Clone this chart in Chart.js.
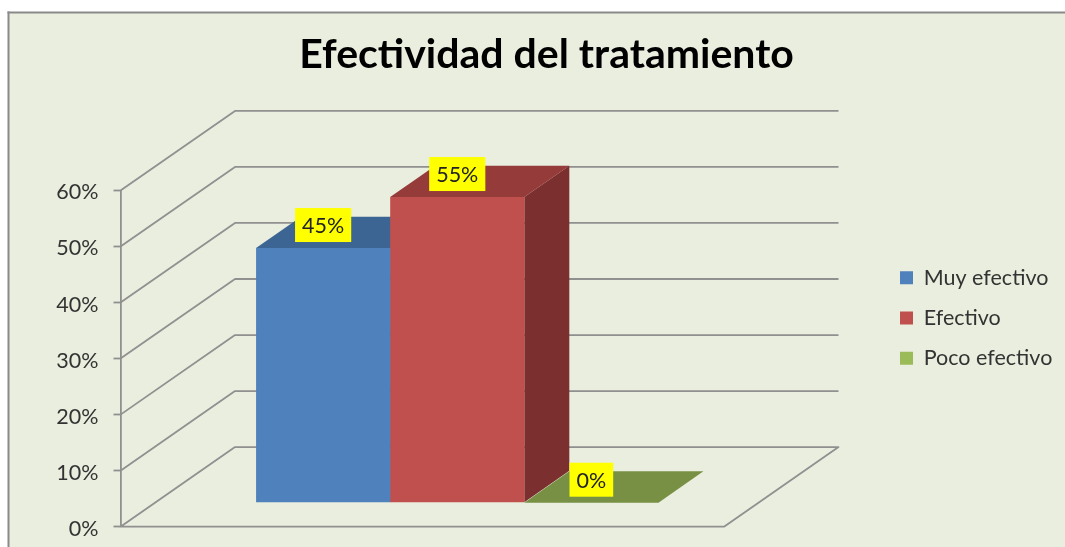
<!DOCTYPE html>
<html lang="es">
<head>
<meta charset="utf-8">
<title>Efectividad del tratamiento</title>
<style>html,body{margin:0;padding:0;background:#fff}canvas{display:block}</style>
<script src="https://cdn.jsdelivr.net/npm/chart.js@4"></script>
</head>
<body>
<canvas id="c" width="1065" height="547"></canvas>
<script>
const categories = [''];
const seriesNames = ['Muy efectivo', 'Efectivo', 'Poco efectivo'];
const muyEfectivo = [45.45];
const efectivo = [54.55];
const pocoEfectivo = [0];
const yTicks = [0, 10, 20, 30, 40, 50, 60];
const chartTitle = 'Efectividad del tratamiento';

const frontColors = ['#4F81BD', '#C0504D', '#9BBB59'];
const topColors = ['#3D6594', '#953B39', '#779044'];
const sideColors = ['#3A5F8C', '#7B2F2E', '#6A8038'];

const FONT = 'Lato, Carlito, "Open Sans", sans-serif';
const BG = '#EAEEDE', GRID = '#909090';
const BAR_SHIFT = {x: 35, y: -24};     // where the bars sit on the floor
const BAR_DEPTH = {x: 45, y: -31.4};   // depth of a bar
const WALL = {x: 114.5, y: -79.6};     // depth of the floor

function poly(ctx, pts, fill) {
  ctx.beginPath();
  pts.forEach((p, i) => i ? ctx.lineTo(p[0], p[1]) : ctx.moveTo(p[0], p[1]));
  ctx.closePath();
  ctx.fillStyle = fill;
  ctx.fill();
}

const scene3d = {
  id: 'scene3d',
  beforeLayout(chart) {
    const lg = chart.legend;
    if (lg && !lg._patched) {
      const fit = lg.fit;
      lg.fit = function () { fit.call(this); this.width = 0; };
      lg._patched = true;
    }
  },
  afterLayout(chart) {
    const lg = chart.legend;
    lg.left = 881.2; lg.right = 1060; lg.top = 248.15; lg.bottom = 400;
    const t = chart.titleBlock;
    t.left = 14; t.right = 1079;
  },
  beforeDraw(chart) {
    const ctx = chart.ctx;
    ctx.save();
    ctx.fillStyle = BG;
    ctx.fillRect(8, 12, 1057, 535);
    ctx.fillStyle = '#8A8A8A';
    ctx.fillRect(7.5, 11.5, 1057.5, 2);
    ctx.fillRect(7.5, 11.5, 2, 535.5);
    ctx.restore();
  },
  beforeDatasetsDraw(chart) {
    const ctx = chart.ctx, y = chart.scales.y, a = chart.chartArea;
    ctx.save();
    ctx.strokeStyle = GRID;
    ctx.lineWidth = 1.8;
    ctx.lineJoin = 'round';
    yTicks.forEach(v => {
      const py = y.getPixelForValue(v);
      ctx.beginPath();
      ctx.moveTo(a.left, py);
      ctx.lineTo(a.left + WALL.x, py + WALL.y);
      ctx.lineTo(a.right + WALL.x, py + WALL.y);
      if (v === 0) { ctx.lineTo(a.right, py); ctx.closePath(); }
      ctx.stroke();
    });
    ctx.translate(BAR_SHIFT.x, BAR_SHIFT.y);
    chart.getSortedVisibleDatasetMetas().slice().sort((m, n) => m.index - n.index).forEach(meta => {
      const b = meta.data[0], i = meta.index;
      const l = b.x - b.width / 2, r = b.x + b.width / 2;
      const dx = BAR_DEPTH.x, dy = BAR_DEPTH.y;
      poly(ctx, [[r, b.base], [r + dx, b.base + dy], [r + dx, b.y + dy], [r, b.y]], sideColors[i]);
      poly(ctx, [[l, b.y], [l + dx, b.y + dy], [r + dx, b.y + dy], [r, b.y]], topColors[i]);
    });
    // bars themselves are drawn by Chart.js inside this shifted frame
  },
  afterDatasetsDraw(chart) {
    const ctx = chart.ctx;
    ctx.font = '21.5px ' + FONT;
    ctx.textAlign = 'center';
    ctx.textBaseline = 'middle';
    chart.getSortedVisibleDatasetMetas().forEach(meta => {
      const b = meta.data[0];
      const text = Math.round(chart.data.datasets[meta.index].data[0]) + '%';
      const w = ctx.measureText(text).width + 14;
      const cy = b.y - 23;
      ctx.fillStyle = '#FFFF00';
      ctx.fillRect(b.x - w / 2, cy - 17, w, 34);
      ctx.fillStyle = '#222';
      ctx.fillText(text, b.x, cy + 1);
    });
    ctx.restore();
  }
};

new Chart(document.getElementById('c'), {
  type: 'bar',
  data: {
    labels: categories,
    datasets: [muyEfectivo, efectivo, pocoEfectivo].map((d, i) => ({
      label: seriesNames[i],
      data: d,
      backgroundColor: frontColors[i],
      borderWidth: 0,
      barPercentage: 1,
      categoryPercentage: 0.6667,
      clip: false
    }))
  },
  plugins: [scene3d],
  options: {
    responsive: false,
    animation: false,
    events: [],
    layout: {padding: {left: 0, top: 0, right: 341, bottom: 20.3}},
    plugins: {
      tooltip: {enabled: false},
      title: {
        display: true,
        text: chartTitle,
        color: '#000',
        font: {family: FONT, size: 41, weight: 'bold', lineHeight: 1.2},
        padding: {top: 30.4, bottom: 110.9}
      },
      legend: {
        position: 'right',
        align: 'start',
        labels: {
          boxWidth: 13,
          boxHeight: 13,
          padding: 18.8,
          color: '#333',
          font: {family: FONT, size: 21.5}
        }
      }
    },
    scales: {
      x: {display: false, stacked: false},
      y: {
        min: 0,
        max: 60,
        afterFit(s) { s.width = 120.5; s.paddingTop = 0; s.paddingBottom = 0; },
        afterBuildTicks(s) { s.ticks = yTicks.map(v => ({value: v})); },
        border: {display: true, color: GRID, width: 1.8},
        grid: {display: true, drawOnChartArea: false, drawTicks: true, tickLength: 7, tickWidth: 1.8, tickColor: GRID},
        ticks: {
          padding: 15,
          labelOffset: 2,
          color: '#333',
          font: {family: FONT, size: 21.5},
          callback: v => v + '%'
        }
      }
    }
  }
});
</script>
</body>
</html>
